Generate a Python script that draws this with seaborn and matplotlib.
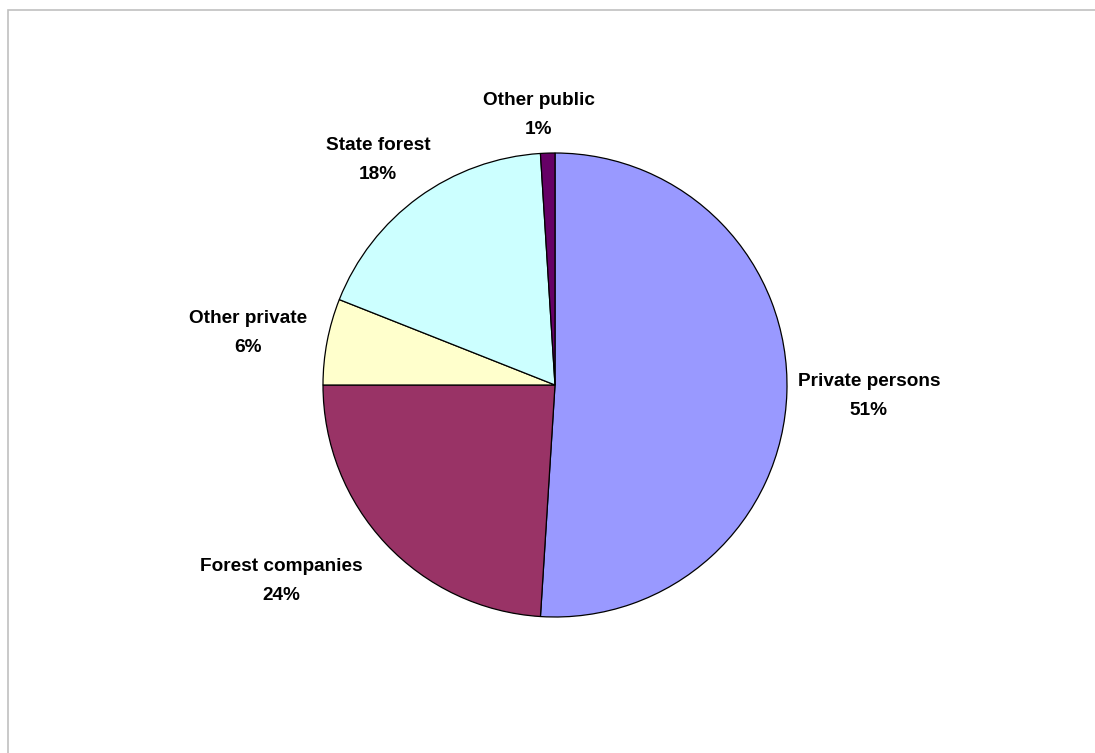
import numpy as np
import matplotlib
matplotlib.use("Agg")
import matplotlib.pyplot as plt
from matplotlib.patches import Rectangle
import seaborn as sns

# Forest ownership shares (percent), clockwise from 12 o'clock
owners = ["Private persons", "Forest companies", "Other private", "State forest", "Other public"]
shares = [51, 24, 6, 18, 1]
colors = ["#9999FF", "#993366", "#FFFFCC", "#CCFFFF", "#660066"]

# label centres relative to the pie centre, in units of the pie radius
label_xy = [(1.353, -0.047), (-1.181, -0.845), (-1.325, 0.224),
            (-0.763, 0.970), (-0.069, 1.164)]

sns.set_theme(style="white")
plt.rcParams["font.family"] = ["Liberation Sans", "DejaVu Sans"]

W, H = 1095, 753
fig = plt.figure(figsize=(W / 100, H / 100), dpi=100)
fig.patch.set_facecolor("white")

# chart-area frame (light grey)
fig.add_artist(Rectangle((7.5 / W, -0.1), 1.2, 1 - 10.5 / H + 0.1,
                         transform=fig.transFigure, fill=False,
                         edgecolor="#c0c0c0", linewidth=1.2))

cx, cy, r = 555, 385, 232
ax = fig.add_axes([(cx - r) / W, (H - cy - r) / H, 2 * r / W, 2 * r / H])
wedges, _ = ax.pie(shares, colors=colors, startangle=90, counterclock=False,
                   radius=1.0, wedgeprops=dict(edgecolor="black", linewidth=0.9))
ax.set_xlim(-1, 1)
ax.set_ylim(-1, 1)
ax.set_aspect("equal")
ax.axis("off")

for name, val, (lx, ly) in zip(owners, shares, label_xy):
    ax.text(lx, ly, f"{name}\n{val}%",
            ha="center", va="center", fontsize=13.7, fontweight="bold",
            linespacing=1.88, color="black", clip_on=False)

fig.savefig("out.png", dpi=100, facecolor="white")
